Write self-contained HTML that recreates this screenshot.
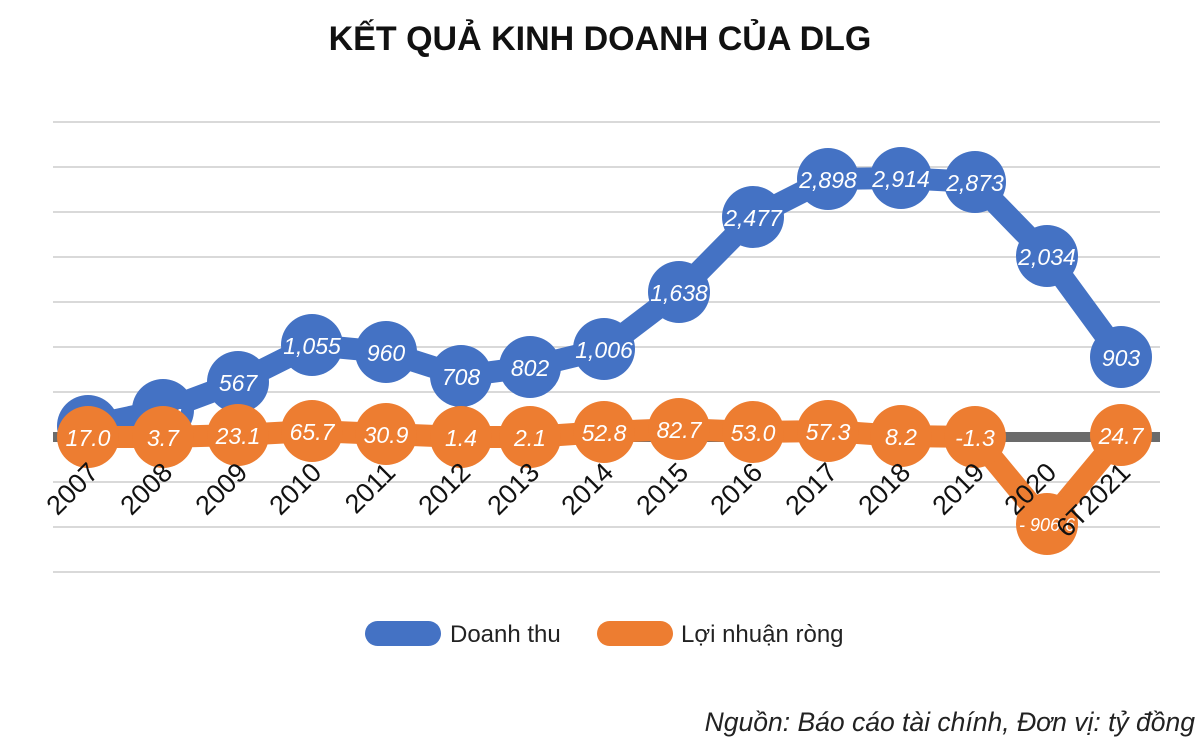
<!DOCTYPE html>
<html><head><meta charset="utf-8"><style>
body{margin:0;background:#fff;}
svg{display:block;font-family:"Liberation Sans",sans-serif;}
</style></head><body>
<svg width="1200" height="744" viewBox="0 0 1200 744">
<text x="600" y="50" text-anchor="middle" font-size="34" font-weight="bold" fill="#111">KẾT QUẢ KINH DOANH CỦA DLG</text>
<g stroke="#d9d9d9" stroke-width="2">
<line x1="53" x2="1160" y1="122" y2="122"/><line x1="53" x2="1160" y1="167" y2="167"/>
<line x1="53" x2="1160" y1="212" y2="212"/><line x1="53" x2="1160" y1="257" y2="257"/>
<line x1="53" x2="1160" y1="302" y2="302"/><line x1="53" x2="1160" y1="347" y2="347"/>
<line x1="53" x2="1160" y1="392" y2="392"/><line x1="53" x2="1160" y1="482" y2="482"/>
<line x1="53" x2="1160" y1="527" y2="527"/><line x1="53" x2="1160" y1="572" y2="572"/>
</g>
<line x1="53" x2="1160" y1="437" y2="437" stroke="#6b6b6b" stroke-width="10"/>
<g fill="#4472c4" stroke="#4472c4">
<polyline fill="none" stroke-width="22" stroke-linejoin="round" points="88,426 163,410 238,382 312,345 386,352 461,376 530,367 604,349 679,292 753,217 828,179 901,178 975,182 1047,256 1121,357"/>
<g stroke="none">
<circle cx="88" cy="426" r="31"/><circle cx="163" cy="410" r="31"/><circle cx="238" cy="382" r="31"/><circle cx="312" cy="345" r="31"/><circle cx="386" cy="352" r="31"/><circle cx="461" cy="376" r="31"/><circle cx="530" cy="367" r="31"/><circle cx="604" cy="349" r="31"/><circle cx="679" cy="292" r="31"/><circle cx="753" cy="217" r="31"/><circle cx="828" cy="179" r="31"/><circle cx="901" cy="178" r="31"/><circle cx="975" cy="182" r="31"/><circle cx="1047" cy="256" r="31"/><circle cx="1121" cy="357" r="31"/>
</g></g>
<g fill="#fff" font-size="23" font-style="italic" text-anchor="middle">
<text x="163" y="425">194</text><text x="238" y="391">567</text><text x="312" y="354">1,055</text><text x="386" y="361">960</text><text x="461" y="385">708</text><text x="530" y="376">802</text><text x="604" y="358">1,006</text><text x="679" y="301">1,638</text><text x="753" y="226">2,477</text><text x="828" y="188">2,898</text><text x="901" y="187">2,914</text><text x="975" y="191">2,873</text><text x="1047" y="265">2,034</text><text x="1121" y="366">903</text>
</g>
<g fill="#ed7d31">
<polyline fill="none" stroke="#ed7d31" stroke-width="22" stroke-linejoin="round" points="88,437 163,437 238,435 312,431 386,434 461,437 530,437 604,432 679,429 753,432 828,431 901,436 975,437 1047,524 1121,435"/>
<circle cx="88" cy="437" r="31"/><circle cx="163" cy="437" r="31"/><circle cx="238" cy="435" r="31"/><circle cx="312" cy="431" r="31"/><circle cx="386" cy="434" r="31"/><circle cx="461" cy="437" r="31"/><circle cx="530" cy="437" r="31"/><circle cx="604" cy="432" r="31"/><circle cx="679" cy="429" r="31"/><circle cx="753" cy="432" r="31"/><circle cx="828" cy="431" r="31"/><circle cx="901" cy="436" r="31"/><circle cx="975" cy="437" r="31"/><circle cx="1047" cy="524" r="31"/><circle cx="1121" cy="435" r="31"/>
</g>
<g fill="#fff" font-size="23" font-style="italic" text-anchor="middle">
<text x="88" y="446">17.0</text><text x="163" y="446">3.7</text><text x="238" y="444">23.1</text><text x="312" y="440">65.7</text><text x="386" y="443">30.9</text><text x="461" y="446">1.4</text><text x="530" y="446">2.1</text><text x="604" y="441">52.8</text><text x="679" y="438">82.7</text><text x="753" y="441">53.0</text><text x="828" y="440">57.3</text><text x="901" y="445">8.2</text><text x="975" y="446">-1.3</text><text x="1047" y="531" font-size="18">- 906.6</text><text x="1121" y="444">24.7</text>
</g>
<g fill="#111" font-size="27">
<text transform="translate(100,474) rotate(-45)" text-anchor="end">2007</text>
<text transform="translate(174,474) rotate(-45)" text-anchor="end">2008</text>
<text transform="translate(249,474) rotate(-45)" text-anchor="end">2009</text>
<text transform="translate(323,474) rotate(-45)" text-anchor="end">2010</text>
<text transform="translate(397,474) rotate(-45)" text-anchor="end">2011</text>
<text transform="translate(472,474) rotate(-45)" text-anchor="end">2012</text>
<text transform="translate(541,474) rotate(-45)" text-anchor="end">2013</text>
<text transform="translate(615,474) rotate(-45)" text-anchor="end">2014</text>
<text transform="translate(690,474) rotate(-45)" text-anchor="end">2015</text>
<text transform="translate(764,474) rotate(-45)" text-anchor="end">2016</text>
<text transform="translate(839,474) rotate(-45)" text-anchor="end">2017</text>
<text transform="translate(912,474) rotate(-45)" text-anchor="end">2018</text>
<text transform="translate(986,474) rotate(-45)" text-anchor="end">2019</text>
<text transform="translate(1058,474) rotate(-45)" text-anchor="end">2020</text>
<text transform="translate(1132,474) rotate(-45)" text-anchor="end">6T2021</text>
</g>
<rect x="365" y="621" width="76" height="25" rx="12.5" fill="#4472c4"/>
<text x="450" y="642" font-size="24" fill="#222">Doanh thu</text>
<rect x="597" y="621" width="76" height="25" rx="12.5" fill="#ed7d31"/>
<text x="681" y="642" font-size="24" fill="#222">Lợi nhuận ròng</text>
<text x="1195" y="731" text-anchor="end" font-size="26.5" font-style="italic" fill="#222">Nguồn: Báo cáo tài chính, Đơn vị: tỷ đồng</text>
</svg>
</body></html>
